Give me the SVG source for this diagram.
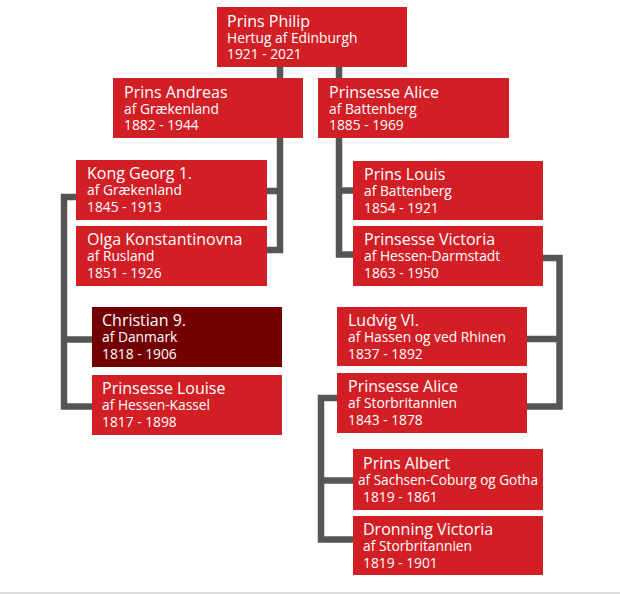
<svg xmlns="http://www.w3.org/2000/svg" width="620" height="594" viewBox="0 0 620 594">
<style>
.box{fill:#d21f26}
.dark{fill:#730000}
.t{font-family:"Open Sans","Noto Sans",sans-serif;fill:#ffffff;font-weight:500}
.n{font-size:16px}
.s{font-size:13.8px}
.c{fill:none;stroke:#555555;stroke-width:6.5}
</style>
<rect x="0" y="0" width="620" height="594" fill="#ffffff"/>
<line x1="0" y1="593" x2="620" y2="593" stroke="#dddddd" stroke-width="2"/>
<g id="connectors">
<path class="c" d="M280,67 V250 H267 M267,191 H280"/>
<path class="c" d="M76,197 H64 V406.5 H92 M64,339.5 H92"/>
<path class="c" d="M339,67 V254.5 H353 M339,190.5 H353"/>
<path class="c" d="M543,258 H559.5 V406.5 H527 M527,339 H559.5"/>
<path class="c" d="M337,398 H321 V539.5 H353 M321,480.5 H353"/>
</g>
<g id="philip"><rect class="box" x="217" y="7" width="190" height="60"/>
<text class="t n" x="227" y="27">Prins Philip</text><text class="t s" x="227" y="43">Hertug af Edinburgh</text><text class="t s" x="227" y="59">1921 - 2021</text></g>
<g id="andreas"><rect class="box" x="113" y="78" width="190" height="60"/>
<text class="t n" x="124" y="98">Prins Andreas</text><text class="t s" x="124" y="114">af Grækenland</text><text class="t s" x="124" y="130">1882 - 1944</text></g>
<g id="alice-battenberg"><rect class="box" x="318" y="78" width="191" height="60"/>
<text class="t n" x="329" y="98">Prinsesse Alice</text><text class="t s" x="329" y="114">af Battenberg</text><text class="t s" x="329" y="130">1885 - 1969</text></g>
<g id="georg"><rect class="box" x="76" y="160" width="191" height="60"/>
<text class="t n" x="87" y="179">Kong Georg 1.</text><text class="t s" x="87" y="195">af Grækenland</text><text class="t s" x="87" y="212">1845 - 1913</text></g>
<g id="olga"><rect class="box" x="76" y="226" width="191" height="60"/>
<text class="t n" x="87" y="245">Olga Konstantinovna</text><text class="t s" x="87" y="261">af Rusland</text><text class="t s" x="87" y="278">1851 - 1926</text></g>
<g id="christian"><rect class="dark" x="92" y="307" width="190" height="60"/>
<text class="t n" x="102" y="326">Christian 9.</text><text class="t s" x="102" y="342">af Danmark</text><text class="t s" x="102" y="359">1818 - 1906</text></g>
<g id="louise"><rect class="box" x="92" y="375" width="190" height="60"/>
<text class="t n" x="102" y="394">Prinsesse Louise</text><text class="t s" x="102" y="410">af Hessen-Kassel</text><text class="t s" x="102" y="427">1817 - 1898</text></g>
<g id="louis"><rect class="box" x="353" y="161" width="190" height="59"/>
<text class="t n" x="364" y="180">Prins Louis</text><text class="t s" x="364" y="196">af Battenberg</text><text class="t s" x="364" y="213">1854 - 1921</text></g>
<g id="victoria-hd"><rect class="box" x="353" y="226" width="190" height="60"/>
<text class="t n" x="364" y="245">Prinsesse Victoria</text><text class="t s" x="364" y="261">af Hessen-Darmstadt</text><text class="t s" x="364" y="278">1863 - 1950</text></g>
<g id="ludvig"><rect class="box" x="337" y="307" width="190" height="59"/>
<text class="t n" x="348" y="326">Ludvig VI.</text><text class="t s" x="348" y="342">af Hassen og ved Rhinen</text><text class="t s" x="348" y="359">1837 - 1892</text></g>
<g id="alice-storbritannien"><rect class="box" x="337" y="373" width="190" height="60"/>
<text class="t n" x="348" y="392">Prinsesse Alice</text><text class="t s" x="348" y="408">af Storbritannien</text><text class="t s" x="348" y="425">1843 - 1878</text></g>
<g id="albert"><rect class="box" x="353" y="449" width="190" height="61"/>
<text class="t n" x="363" y="469">Prins Albert</text><text class="t s" x="358" y="485" textLength="180" lengthAdjust="spacingAndGlyphs">af Sachsen-Coburg og Gotha</text><text class="t s" x="363" y="502">1819 - 1861</text></g>
<g id="dronning-victoria"><rect class="box" x="353" y="516" width="190" height="59"/>
<text class="t n" x="363" y="535">Dronning Victoria</text><text class="t s" x="363" y="551">af Storbritannien</text><text class="t s" x="363" y="568">1819 - 1901</text></g>
</svg>
